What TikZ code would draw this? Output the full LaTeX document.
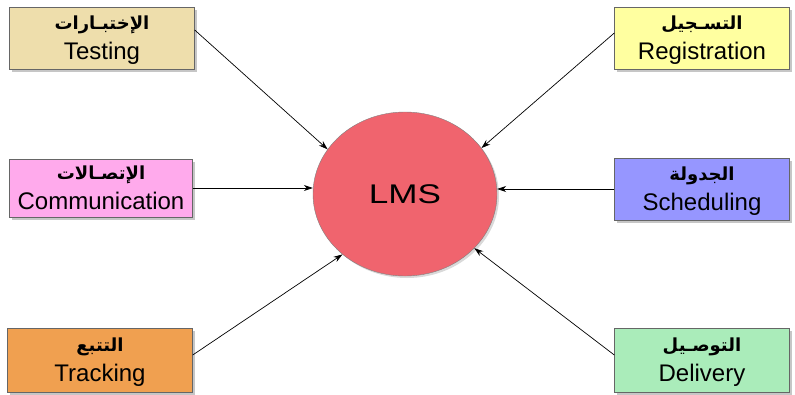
\documentclass[tikz,border=0pt]{standalone}
\usepackage{fontspec}
\setmainfont{Liberation Sans}
\newfontfamily\arabicfont[Script=Arabic]{DejaVu Sans}
\TeXXeTstate=1
\usetikzlibrary{arrows.meta,shadows,shapes.geometric,positioning}
\definecolor{testingColor}{RGB}{238,222,172}
\definecolor{registrationColor}{RGB}{255,255,160}
\definecolor{communicationColor}{RGB}{255,170,236}
\definecolor{schedulingColor}{RGB}{150,150,255}
\definecolor{trackingColor}{RGB}{240,160,80}
\definecolor{deliveryColor}{RGB}{170,236,186}
\definecolor{lmsColor}{RGB}{240,100,110}
\newcommand{\arline}[1]{{\arabicfont\bfseries\fontsize{18}{19}\selectfont\beginR #1\endR}}
\tikzset{module/.style={draw=black!60, align=center, minimum width=175pt, minimum height=62pt, inner sep=1pt, text depth=0pt, font=\fontsize{24}{26}\selectfont, drop shadow={shadow xshift=2.5pt, shadow yshift=-2.5pt, opacity=0.45}}}
\tikzset{link/.style={-{Stealth[length=9pt, width=6pt]}, line width=0.7pt}}

\begin{document}
\begin{tikzpicture}[x=1pt, y=-1pt]
\useasboundingbox (0,0) rectangle (795,394);
% Nodes
\node (lms) [ellipse, draw=black!50, fill=lmsColor, minimum width=184pt, minimum height=164pt, inner sep=0pt, font=\fontsize{27}{29}\selectfont, drop shadow={shadow xshift=2pt, shadow yshift=-2pt, opacity=0.3}] at (405,194) {\scalebox{1.3}[1]{LMS}};

\node (testing) [module, fill=testingColor, minimum width=185pt] at (102,38) {\arline{الإختبـارات}\\[4pt] Testing};
\node (registration) [module, fill=registrationColor] at (702,38) {\arline{التسـجيل}\\[4pt] Registration};
\node (communication) [module, fill=communicationColor, minimum width=183pt, minimum height=58pt] at (101,188) {\arline{الإتصـالات}\\[4pt] Communication};
\node (scheduling) [module, fill=schedulingColor] at (702,189) {\arline{الجدولة}\\[4pt] Scheduling};
\node (tracking) [module, fill=trackingColor, minimum width=185pt, minimum height=64pt] at (100,360) {\arline{التتبع}\\[4pt] Tracking};
\node (delivery) [module, fill=deliveryColor, minimum height=64pt] at (702,360) {\arline{التوصـيل}\\[4pt] Delivery};

% Connectors
\draw [link] ([yshift=8pt]testing.east) -- (lms.150);
\draw [link] ([yshift=5pt]registration.west) -- (lms.31);
\draw [link] (communication.east) -- (communication.east -| lms.west);
\draw [link] (scheduling.west) -- (scheduling.west -| lms.east);
\draw [link] ([yshift=5pt]tracking.east) -- (lms.224);
\draw [link] ([yshift=5pt]delivery.west) -- (lms.322);

\end{tikzpicture}
\end{document}
